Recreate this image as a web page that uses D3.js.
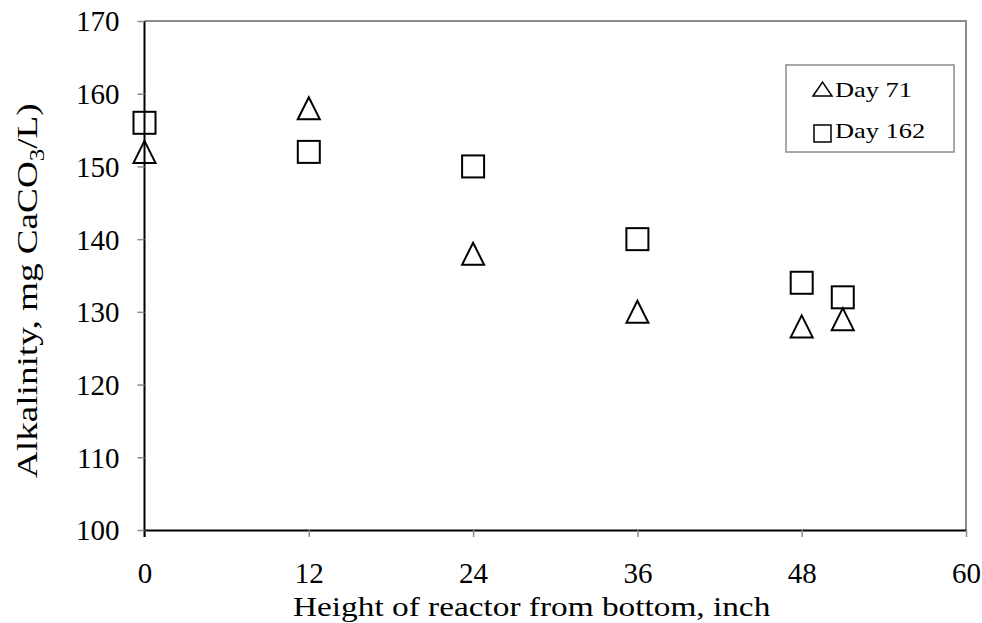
<!DOCTYPE html>
<html lang="en">
	<head>
		<meta charset="utf-8">
		<title>Alkalinity vs reactor height</title>
		<script type="text/javascript" src="https://cdn.jsdelivr.net/npm/d3@7"></script>
		<style type="text/css">
			body { margin: 0; background: #fff; }
			text { font-family: "Liberation Serif", "Times New Roman", serif; fill: #000; }
		</style>
	</head>
	<body>
		<script type="text/javascript">

			//Width and height
			var w = 982;
			var h = 623;

			//Data
			var heights = [0, 12, 24, 36, 48, 51];
			var day71 = [152, 158, 138, 130, 128, 129];
			var day162 = [156, 152, 150, 140, 134, 132];
			var seriesNames = ["Day 71", "Day 162"];
			var xTicks = [0, 12, 24, 36, 48, 60];
			var yTicks = [100, 110, 120, 130, 140, 150, 160, 170];

			var padL = 144.5, padR = 966, padT = 21, padB = 530;
			var m = 11; //half marker size

			var svg = d3.select("body")
						.append("svg")
						.attr("width", w)
						.attr("height", h);

			var xScale = d3.scaleLinear()
						   .domain([0, 60])
						   .range([padL, padR]);

			var yScale = d3.scaleLinear()
						   .domain([100, 170])
						   .range([padB, padT]);

			//Gray frame (top and right)
			svg.append("path")
				.attr("d", "M" + padL + "," + padT + "H" + padR + "V" + padB)
				.attr("fill", "none")
				.attr("stroke", "#8c8c8c")
				.attr("stroke-width", 2);

			//X axis
			var xAxis = d3.axisBottom(xScale)
						  .tickValues(xTicks)
						  .tickSize(7)
						  .tickSizeOuter(0)
						  .tickPadding(0);

			var gx = svg.append("g")
				.attr("transform", "translate(0," + padB + ")")
				.call(xAxis);
			gx.select(".domain").attr("stroke", "#000").attr("stroke-width", 2);
			gx.selectAll(".tick line").attr("stroke", "#8c8c8c").attr("stroke-width", 1.5);
			gx.selectAll(".tick text")
				.attr("y", 53)
				.attr("dy", null)
				.attr("font-size", "29px")
				.attr("font-family", "Liberation Serif");

			//Y axis
			var yAxis = d3.axisLeft(yScale)
						  .tickValues(yTicks)
						  .tickSize(7)
						  .tickSizeOuter(0)
						  .tickPadding(18);

			var gy = svg.append("g")
				.attr("transform", "translate(" + padL + ",0)")
				.call(yAxis);
			gy.select(".domain").attr("stroke", "#000").attr("stroke-width", 2)
				.attr("d", "M0," + padT + "V" + (padB + 7));
			gy.selectAll(".tick line").attr("stroke", "#8c8c8c").attr("stroke-width", 1.5);
			gy.selectAll(".tick text")
				.attr("dy", "0.34em")
				.attr("font-size", "29px")
				.attr("font-family", "Liberation Serif");

			//Axis titles
			svg.append("text")
				.attr("transform", "translate(293,616) scale(1.19,1)")
				.attr("font-size", "28px")
				.text("Height of reactor from bottom, inch");

			var yt = svg.append("text")
				.attr("transform", "translate(37,478) rotate(-90) scale(1.24,1)")
				.attr("font-size", "30px");
			yt.append("tspan").text("Alkalinity, mg CaCO");
			yt.append("tspan").attr("font-size", "20px").attr("dy", 7).text("3");
			yt.append("tspan").attr("dy", -7).text("/L)");

			//Markers
			function triangle(cx, cy, r) {
				return "M" + (cx - r) + "," + (cy + r) + "L" + cx + "," + (cy - r) + "L" + (cx + r) + "," + (cy + r) + "Z";
			}

			svg.selectAll("path.tri")
				.data(heights.map(function(d, i) { return [d, day71[i]]; }))
				.enter()
				.append("path")
				.attr("class", "tri")
				.attr("d", function(d) { return triangle(xScale(d[0]), yScale(d[1]), m); })
				.attr("fill", "none")
				.attr("stroke", "#000")
				.attr("stroke-width", 2);

			svg.selectAll("rect.sq")
				.data(heights.map(function(d, i) { return [d, day162[i]]; }))
				.enter()
				.append("rect")
				.attr("class", "sq")
				.attr("x", function(d) { return xScale(d[0]) - m; })
				.attr("y", function(d) { return yScale(d[1]) - m; })
				.attr("width", 2 * m)
				.attr("height", 2 * m)
				.attr("fill", "none")
				.attr("stroke", "#000")
				.attr("stroke-width", 2);

			//Legend
			var lg = svg.append("g").attr("transform", "translate(786,65)");
			lg.append("rect")
				.attr("width", 168)
				.attr("height", 87)
				.attr("fill", "#fff")
				.attr("stroke", "#8c8c8c")
				.attr("stroke-width", 1.5);

			lg.append("path")
				.attr("d", "M27,31L36.5,17L46,31Z")
				.attr("fill", "none")
				.attr("stroke", "#000")
				.attr("stroke-width", 1.5);
			lg.append("rect")
				.attr("x", 28).attr("y", 60).attr("width", 17).attr("height", 17)
				.attr("fill", "none")
				.attr("stroke", "#000")
				.attr("stroke-width", 1.5);

			lg.selectAll("text.lab")
				.data(seriesNames)
				.enter()
				.append("text")
				.attr("class", "lab")
				.attr("transform", function(d, i) { return "translate(49," + (32 + i * 41) + ") scale(1.2,1)"; })
				.attr("font-size", "22px")
				.text(function(d) { return d; });

		</script>
	</body>
</html>
